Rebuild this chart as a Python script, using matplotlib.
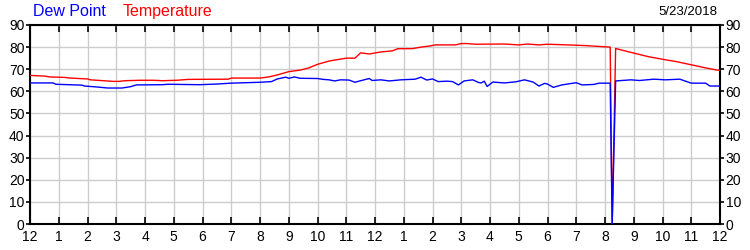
import matplotlib
matplotlib.use("Agg")
import matplotlib.pyplot as plt

# ==========================================
# DATI (ore dalla mezzanotte, gradi F)
# ==========================================
ore_temp = [0.0, 0.5, 0.7, 1.2, 1.4, 2.0, 2.1, 2.9, 3.1, 3.3, 3.8, 4.3, 4.6, 5.1,
            5.5, 6.9, 7.0, 8.0, 8.3, 8.6, 9.0, 9.4, 9.7, 10.0, 10.4, 11.0, 11.3,
            11.5, 11.8, 12.2, 12.6, 12.8, 13.3, 13.6, 13.9, 14.1, 14.8, 15.0, 15.2,
            15.5, 16.5, 17.0, 17.3, 17.7, 18.0, 18.7, 19.3, 19.8, 20.18, 20.25,
            20.37, 20.6, 21.0, 21.5, 22.0, 22.5, 23.0, 23.5, 23.9, 24.0]
temperatura = [67.2, 66.9, 66.5, 66.3, 66.0, 65.6, 65.2, 64.5, 64.5, 64.8, 65.0, 65.0,
               64.8, 65.0, 65.4, 65.5, 66.0, 66.0, 66.5, 67.4, 68.9, 69.6, 70.6, 72.2,
               73.7, 75.0, 75.0, 77.4, 76.9, 77.8, 78.3, 79.3, 79.3, 80.0, 80.5, 81.0,
               81.0, 81.6, 81.6, 81.3, 81.4, 81.0, 81.4, 81.0, 81.3, 81.0, 80.7, 80.3,
               80.0, 0.0, 79.4, 78.6, 77.3, 75.7, 74.5, 73.4, 72.0, 70.6, 69.6, 69.5]

ore_rugiada = [0.0, 0.8, 0.9, 1.8, 1.9, 2.3, 2.7, 3.2, 3.5, 3.7, 4.6, 4.8, 5.9, 6.5,
               7.0, 8.0, 8.4, 8.6, 8.9, 9.0, 9.2, 9.4, 10.0, 10.2, 10.4, 10.6, 10.8,
               11.1, 11.3, 11.5, 11.8, 11.9, 12.2, 12.5, 12.9, 13.4, 13.6, 13.8, 14.0,
               14.2, 14.5, 14.7, 14.9, 15.1, 15.4, 15.6, 15.7, 15.8, 15.9, 16.1, 16.5,
               16.9, 17.2, 17.5, 17.7, 17.9, 18.0, 18.2, 18.5, 19.0, 19.2, 19.6, 19.8,
               20.18, 20.25, 20.37, 20.9, 21.2, 21.7, 22.1, 22.6, 23.0, 23.5, 23.65, 24.0]
punto_rugiada = [63.8, 63.8, 63.2, 62.8, 62.4, 62.0, 61.5, 61.5, 62.1, 62.9, 63.0, 63.2,
                 63.0, 63.3, 63.7, 64.1, 64.4, 65.6, 66.4, 65.9, 66.5, 65.9, 65.8, 65.4,
                 65.2, 64.7, 65.2, 65.1, 64.1, 64.8, 65.8, 64.9, 65.2, 64.7, 65.2, 65.5,
                 66.4, 65.1, 65.6, 64.4, 64.6, 64.4, 62.9, 64.7, 65.2, 64.0, 63.8, 64.6,
                 62.2, 64.2, 63.8, 64.3, 65.2, 64.2, 62.4, 63.6, 63.3, 61.8, 62.9, 63.9,
                 62.9, 63.1, 63.7, 63.7, 0.0, 64.7, 65.2, 64.9, 65.5, 65.2, 65.5, 63.7,
                 63.7, 62.4, 62.4]

etichette_ore = ["12", "1", "2", "3", "4", "5", "6", "7", "8", "9", "10", "11",
                 "12", "1", "2", "3", "4", "5", "6", "7", "8", "9", "10", "11", "12"]
data_giorno = "5/23/2018"

plt.rcParams['font.family'] = ['Liberation Sans', 'DejaVu Sans']

fig = plt.figure(figsize=(7.5, 2.5), dpi=100)
ax = fig.add_axes([0.04, 0.104, 0.92, 0.796])

ax.plot(ore_temp, temperatura, color='#ff0000', lw=1.0, zorder=3)
ax.plot(ore_rugiada, punto_rugiada, color='#0000ff', lw=1.0, zorder=4)

ax.set_xlim(0, 24)
ax.set_ylim(0, 90)
ax.set_xticks(range(25))
ax.set_xticklabels(etichette_ore)
ax.set_yticks(range(0, 91, 10))

ax.grid(True, color='#cccccc', lw=1.0, zorder=0)
ax.set_axisbelow(True)
for s in ax.spines.values():
    s.set_linewidth(1.5)
    s.set_color('black')

ax.tick_params(axis='x', direction='in', length=5, width=1.2, top=True, bottom=True,
               labelsize=10, pad=4)
ax.tick_params(axis='y', direction='out', length=3, width=1.2, left=True, right=True,
               labelleft=True, labelright=True, labelsize=10, pad=1)

# intestazione
fig.text(0.044, 0.954, "Dew Point", color='#0000ff', fontsize=11.5, va='center')
fig.text(0.164, 0.954, "Temperature", color='#ff0000', fontsize=11.5, va='center')
fig.text(0.957, 0.952, data_giorno, color='black', fontsize=9.5, va='center', ha='right')

fig.savefig("out.png", dpi=100)
